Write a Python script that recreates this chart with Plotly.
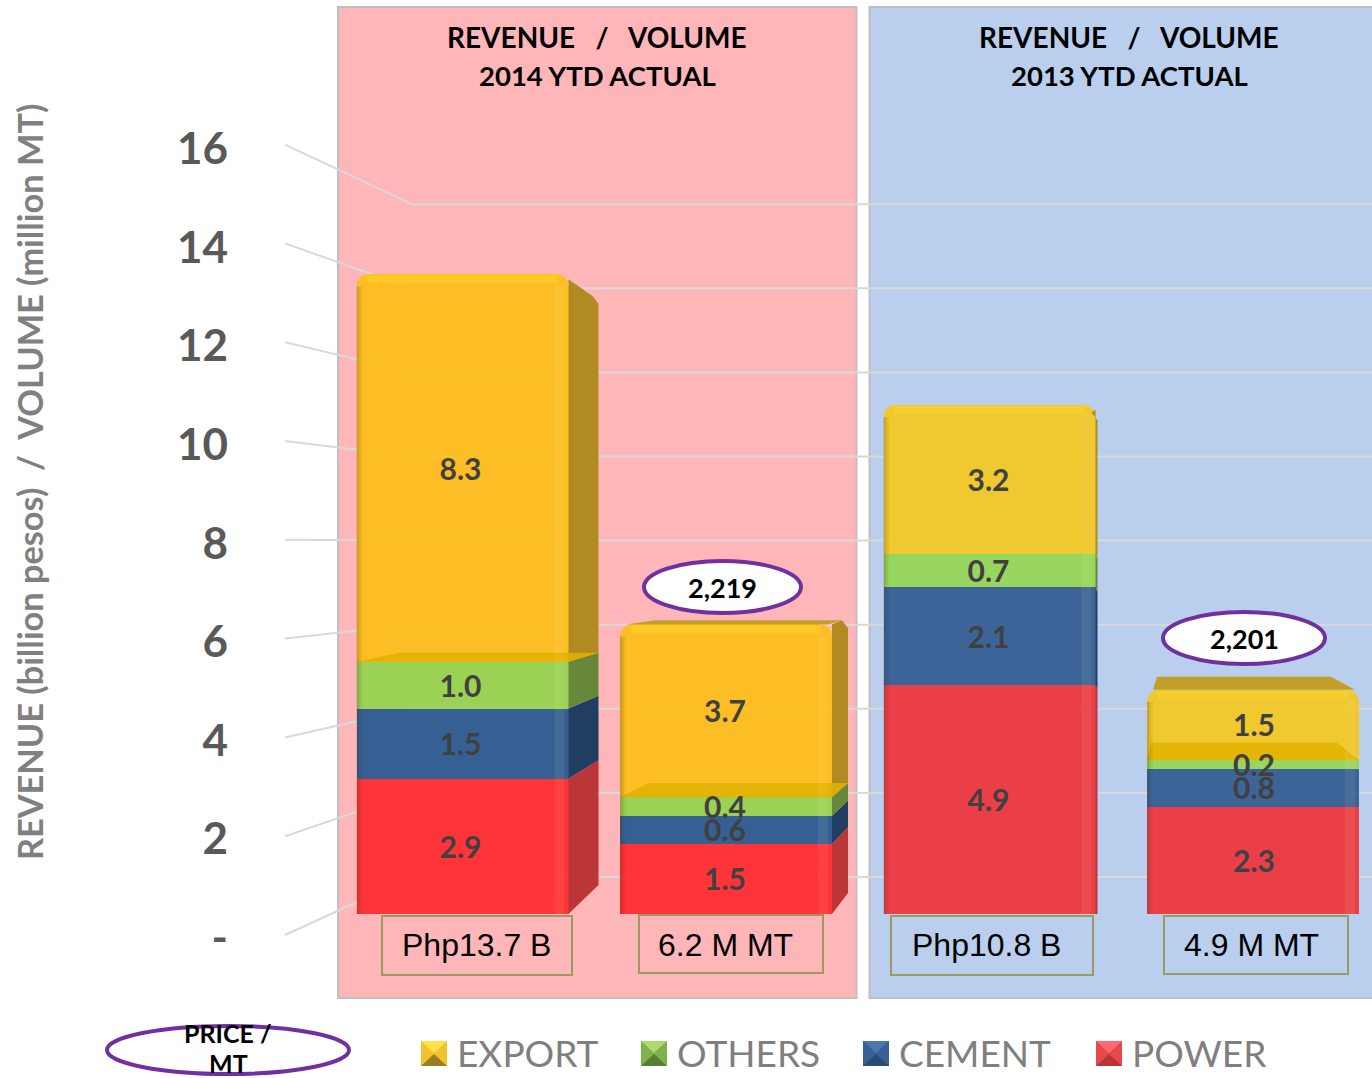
import plotly.graph_objects as go

# Series values, bottom of the stack first
categories = ["2014 Revenue", "2014 Volume", "2013 Revenue", "2013 Volume"]
power = [2.9, 1.5, 4.9, 2.3]
cement = [1.5, 0.6, 2.1, 0.8]
others = [1.0, 0.4, 0.7, 0.2]
export = [8.3, 3.7, 3.2, 1.5]
tick_values = [0, 2, 4, 6, 8, 10, 12, 14, 16]
tick_labels = ["-", "2", "4", "6", "8", "10", "12", "14", "16"]
total_labels = ["Php13.7 B", "6.2 M MT", "Php10.8 B", "4.9 M MT"]
price_labels = ["2,219", "2,201"]

W, H = 1372, 1078
PINK, BLUE = (255, 182, 184), (185, 207, 237)
SANS, ARIAL = "Lato", "Liberation Sans"

# Page geometry of the value scales (front of bars, tick labels, connectors, back wall)
BAR_Y0, BAR_K = 914, 46.7
TICK_Y0, TICK_K = 937.5, 49.3
LINK_Y0, LINK_K = 935, 49.4
WALL_Y0, WALL_K = 877, 42.05
X0, X_STEP, BAR_W = 462.5, 263.5, 212
BAR_HALF = BAR_W / X_STEP / 2

# Perspective of each column: side depth, back-edge base and back-edge scale
depth_r = [30, 16, 2, -22]
back_left = [43, 29, 0, 4]
back_y0 = [885, 893, 914, 888]
back_k = [43, 44, 46.0, 44]
panel_bg = [PINK, PINK, BLUE, BLUE]
label_nudge = [-2, -1, -1, 1]


def xd(px):
    return (px - X0) / X_STEP


def yd(py):
    return (BAR_Y0 - py) / BAR_K


def xp(px):
    return px / W


def yp(py):
    return 1 - py / H


def rgb(c):
    return "rgb(%d,%d,%d)" % tuple(c)


def see_through(color, bg, alpha=0.92):
    """Fill that lands on `color` when laid at `alpha` over `bg`."""
    vals = [max(0, min(255, (c - (1 - alpha) * b) / alpha)) for c, b in zip(color, bg)]
    return "rgba(%d,%d,%d,%.2f)" % (vals[0], vals[1], vals[2], alpha)


series = [
    ("POWER", power, (255, 53, 56), (234, 64, 73), "#BC3537"),
    ("CEMENT", cement, (55, 97, 148), (60, 101, 153), "#213D62"),
    ("OTHERS", others, (155, 211, 86), (153, 215, 95), "#67873A"),
    ("EXPORT", export, (253, 191, 36), (240, 201, 47), "#B28A22"),
]

fig = go.Figure()
shapes = []


def polygon(xs, ys, color):
    fig.add_trace(go.Scatter(x=xs, y=ys, mode="lines", fill="toself", fillcolor=color,
                             line=dict(width=0), hoverinfo="skip", showlegend=False))


def page_rect(x0, y0, x1, y1, fill="rgba(0,0,0,0)", line=None, width=0, layer="above", kind="rect"):
    shapes.append(dict(type=kind, xref="paper", yref="paper", x0=xp(x0), x1=xp(x1),
                       y0=yp(y0), y1=yp(y1), fillcolor=fill, layer=layer,
                       line=dict(color=line or "rgba(0,0,0,0)", width=width)))


def levels(i):
    out = [0]
    for _, vals, *_rest in series:
        out.append(out[-1] + vals[i])
    return out


def back_y(i, v):
    return yd(back_y0[i] - back_k[i] * v)


# Panels behind the chart
page_rect(338, 7, 856.5, 998, rgb(PINK), "#BFBFBF", 2, "below")
page_rect(869.5, 7, W + 4, 998, rgb(BLUE), "#BFBFBF", 2, "below")

# Floor connectors and back-wall gridlines sit under the bars
for t in tick_values:
    wall = yd(WALL_Y0 - WALL_K * t)
    link = yd(LINK_Y0 - LINK_K * t)
    for xa, ya, xb, yb in [(xd(285), link, xd(412), wall), (xd(412), wall, xd(W + 5), wall)]:
        shapes.append(dict(type="line", xref="x", yref="y", x0=xa, y0=ya, x1=xb, y1=yb,
                           layer="below", line=dict(color="#D9D9D9", width=2)))

# Stacked columns
for name, vals, on_pink, on_blue, _ in series:
    colors = [see_through(on_pink if bg is PINK else on_blue, bg) for bg in panel_bg]
    fig.add_trace(go.Bar(x=list(range(4)), y=vals, name=name, customdata=categories,
                         width=BAR_W / X_STEP, marker=dict(color=colors, line=dict(width=0)),
                         hovertemplate="%{customdata}<br>" + name + ": %{y}<extra></extra>",
                         showlegend=False))

# Side faces, the top face and the floor of the export layer
for i in range(len(categories)):
    xl, xr = i - BAR_HALF, i + BAR_HALF
    lv = levels(i)
    xb = xr + depth_r[i] / X_STEP
    xbl = xl + back_left[i] / X_STEP
    if depth_r[i] > 0:
        for s, (_, _, _, _, side) in enumerate(series):
            a, b = lv[s], lv[s + 1]
            if s == len(series) - 1:
                # rounded-off shoulder at the top of the column
                front_top = b - 5 / BAR_K
                if back_y(i, b) > b:
                    front_top = b
                polygon([xr, xb, xb, xb - 6 / X_STEP, xr, xr],
                        [a, back_y(i, a), back_y(i, b) - 8 / BAR_K, back_y(i, b), front_top, a], side)
            else:
                polygon([xr, xb, xb, xr, xr], [a, back_y(i, a), back_y(i, b), b, a], side)
    top = lv[-1]
    if back_y(i, top) > top:
        polygon([xl + 6 / X_STEP, xbl + 6 / X_STEP, xb - 6 / X_STEP, xr - 4 / X_STEP, xl + 6 / X_STEP],
                [top, back_y(i, top), back_y(i, top), top, top], "#C39F2A")
    lift = lv[3]
    if back_y(i, lift) > lift:
        polygon([xl, xbl, xb, xr, xl],
                [lift, back_y(i, lift), back_y(i, lift), lift, lift], "rgba(224,178,0,0.85)")

# Value labels at the middle of each segment, nudged onto the optical centre
label_x, label_y, label_t = [], [], []
for i in range(len(categories)):
    lv = levels(i)
    for s, (_, vals, *_rest) in enumerate(series):
        label_x.append(i + label_nudge[i] / X_STEP)
        label_y.append((lv[s] + lv[s + 1]) / 2 - 4 / BAR_K)
        label_t.append("%.1f" % vals[i])
fig.add_trace(go.Scatter(x=label_x, y=label_y, text=label_t, mode="text", hoverinfo="skip",
                         textfont=dict(family=SANS, size=30, color="#404040", weight="bold"),
                         showlegend=False))

# Bevel: dark left edge, pale right edge, glossy top edge
for i in range(len(categories)):
    xl, xr = i - BAR_HALF, i + BAR_HALF
    top = levels(i)[-1]
    for off, w, a in [(0, 2, 0.22), (2, 2, 0.12), (4, 2, 0.05)]:
        shapes.append(dict(type="rect", xref="x", yref="y", x0=xl + off / X_STEP,
                           x1=xl + (off + w) / X_STEP, y0=0, y1=top - 12 / BAR_K,
                           fillcolor="rgba(60,40,0,%.2f)" % a, line=dict(width=0), layer="above"))
    shapes.append(dict(type="rect", xref="x", yref="y", x0=xr - 14 / X_STEP, x1=xr - 4 / X_STEP,
                       y0=0, y1=top - 10 / BAR_K, fillcolor="rgba(255,255,170,0.07)",
                       line=dict(width=0), layer="above"))
    shapes.append(dict(type="rect", xref="x", yref="y", x0=xl + 11 / X_STEP, x1=xr - 11 / X_STEP,
                       y0=top - 9 / BAR_K, y1=top - 1 / BAR_K, fillcolor="rgba(255,226,50,0.30)",
                       line=dict(width=0), layer="above"))

# Boxes carrying the column totals
box_edges = [(382, 916, 572, 975), (639, 915, 823, 973), (891, 916, 1093, 975), (1164, 916, 1348, 974)]
for e in box_edges:
    page_rect(*e, line="#9C9A62", width=2)

# Price ovals
page_rect(644, 561, 801, 613, "#FFFFFF", "#7030A0", 4, kind="circle")
page_rect(1163, 612, 1325, 664, "#FFFFFF", "#7030A0", 4, kind="circle")
page_rect(107, 1026, 349, 1074, "#FFFFFF", "#7030A0", 4, kind="circle")

annotations = []


def page_text(x, y, text, family=SANS, size=28, color="#000000", bold=False, anchor="center", angle=0):
    annotations.append(dict(x=xp(x), y=yp(y), xref="paper", yref="paper", text=text, showarrow=False,
                            xanchor=anchor, yanchor="middle", textangle=angle,
                            font=dict(family=family, size=size, color=color,
                                      weight="bold" if bold else "normal")))


gap = "\u00a0\u00a0\u00a0"
for cx, year in [(597, "2014"), (1129, "2013")]:
    page_text(cx, 37, f"REVENUE{gap}/{gap}VOLUME", size=28, bold=True)
    page_text(cx, 75, f"{year} YTD ACTUAL", size=27.5, bold=True)

for cx, label in zip([476, 725, 986, 1251], total_labels):
    page_text(cx, 945, label, family=ARIAL, size=32)

page_text(722, 587, price_labels[0], size=27, bold=True)
page_text(1244, 638, price_labels[1], size=27, bold=True)
page_text(228, 1033, "PRICE /", size=25, bold=True)
page_text(228, 1063, "MT", size=25, bold=True)

page_text(29, 482, "REVENUE (billion pesos)\u00a0\u00a0/\u00a0\u00a0VOLUME (million MT)", size=34.3,
          color="#808080", bold=True, angle=-90)

# Legend drawn to size with bevelled swatches
legend = [("EXPORT", 421, 455, "#F2C12E", "#FFE14A", "#9A7F22"),
          ("OTHERS", 641, 675, "#7FB24A", "#A9DC6A", "#567F2E"),
          ("CEMENT", 863, 897, "#376194", "#4A78AE", "#284A73"),
          ("POWER", 1096, 1130, "#E8474C", "#FF6A6E", "#B5353A")]
for name, sx, tx, base, light, dark in legend:
    page_rect(sx, 1041, sx + 26, 1066, base)
    for pts, col in [([(sx, 1041), (sx + 26, 1041), (sx + 13, 1053)], light),
                     ([(sx, 1066), (sx + 26, 1066), (sx + 13, 1054)], dark)]:
        path = "M " + " L ".join(f"{xp(a):.5f} {yp(b):.5f}" for a, b in pts) + " Z"
        shapes.append(dict(type="path", xref="paper", yref="paper", path=path, fillcolor=col,
                           line=dict(width=0), layer="above"))
    page_text(tx, 1052, name, size=37, color="#7F7F7F", anchor="left")

fig.update_layout(
    width=W, height=H, margin=dict(l=0, r=0, t=0, b=0), autosize=False,
    paper_bgcolor="#FFFFFF", plot_bgcolor="rgba(0,0,0,0)",
    barmode="stack", barcornerradius=12, showlegend=False,
    shapes=shapes, annotations=annotations,
    xaxis=dict(domain=[0, 1], range=[xd(0), xd(W)], visible=False, fixedrange=True),
    yaxis=dict(domain=[0, 1], range=[yd(H), yd(0)], visible=False, fixedrange=True),
    # Tick labels live on their own scale, which sits in front of the bars' plane
    yaxis2=dict(overlaying="y", side="left", anchor="free", position=228 / W,
                range=[(TICK_Y0 - H) / TICK_K, TICK_Y0 / TICK_K],
                tickmode="array", tickvals=tick_values, ticktext=tick_labels,
                tickfont=dict(family=SANS, size=44, color="#595959", weight="bold"),
                showgrid=False, zeroline=False, showline=False, ticks="", fixedrange=True),
)
# An empty trace keeps the tick-label axis alive
fig.add_trace(go.Scatter(x=[None], y=[None], yaxis="y2", showlegend=False, hoverinfo="skip"))

fig.write_html("out.html")
